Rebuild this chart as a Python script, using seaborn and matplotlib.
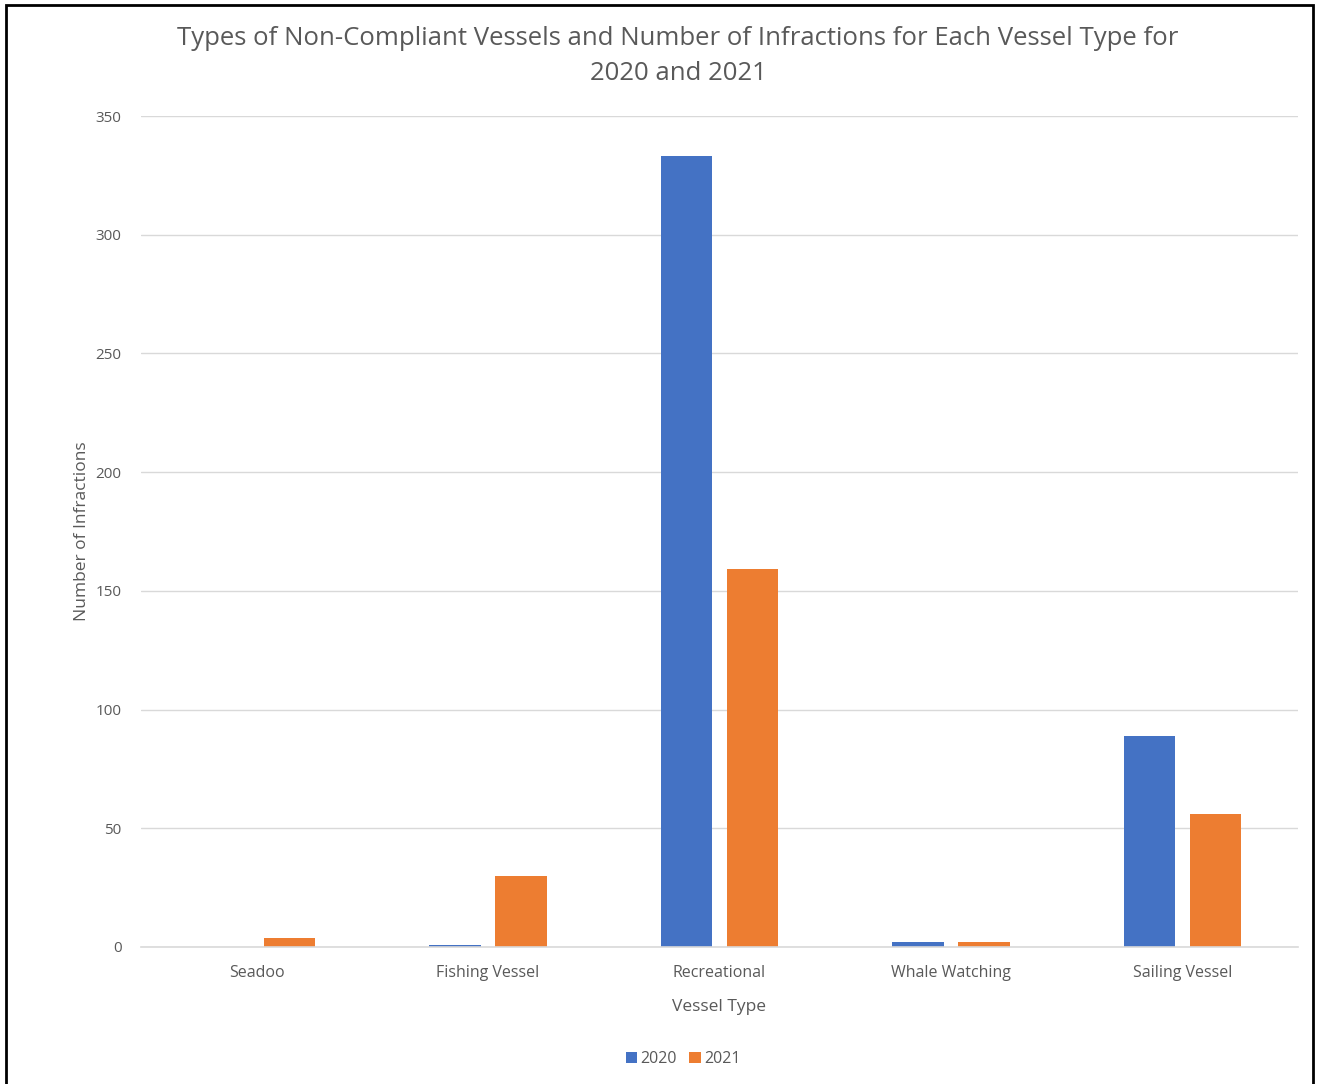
import matplotlib
matplotlib.use("Agg")
import matplotlib.pyplot as plt
import seaborn as sns
import pandas as pd
from matplotlib.patches import Rectangle

categories = ["Seadoo", "Fishing Vessel", "Recreational", "Whale Watching", "Sailing Vessel"]
values_2020 = [0, 1, 333, 2, 89]
values_2021 = [4, 30, 159, 2, 56]
years = ["2020", "2021"]
yticks = [0, 50, 100, 150, 200, 250, 300, 350]

rows = []
for c, a, b in zip(categories, values_2020, values_2021):
    rows.append({"Vessel Type": c, "Year": years[0], "Count": a})
    rows.append({"Vessel Type": c, "Year": years[1], "Count": b})
df = pd.DataFrame(rows)

sns.set_theme(style="white")
plt.rcParams['font.family'] = ['Open Sans', 'DejaVu Sans']

W, H = 1319, 1084
fig = plt.figure(figsize=(W / 100, H / 100), dpi=100)
ax = fig.add_axes([141 / W, 1 - 947 / H, (1298 - 141) / W, (947 - 116) / H])

palette = {"2020": "#4472C4", "2021": "#ED7D31"}
sns.barplot(data=df, x="Vessel Type", y="Count", hue="Year", hue_order=years,
            order=categories, palette=palette, width=0.57, gap=0.22,
            linewidth=0, saturation=1, ax=ax, legend=True)

ax.set_ylim(0, 350)
ax.set_xlim(-0.5, len(categories) - 0.5)
ax.set_yticks(yticks)
ax.set_yticklabels([str(t) for t in yticks], fontsize=11, color="#595959")
ax.tick_params(axis="x", labelsize=11.5, labelcolor="#595959", length=0, pad=13)
ax.tick_params(axis="y", length=0, pad=14)
ax.yaxis.grid(True, color="#D9D9D9", linewidth=1)
ax.set_axisbelow(True)
for s in ["top", "right", "left"]:
    ax.spines[s].set_visible(False)
ax.spines["bottom"].set_color("#D9D9D9")
ax.spines["bottom"].set_linewidth(1.2)

ax.set_xlabel("Vessel Type", fontsize=12.5, color="#595959", labelpad=13)
ax.set_ylabel("Number of Infractions", fontsize=12.5, color="#595959", labelpad=4)

fig.text(678 / W, 1 - 56 / H,
         "Types of Non-Compliant Vessels and Number of Infractions for Each Vessel Type for\n2020 and 2021",
         ha="center", va="center", fontsize=18.5, color="#595959", linespacing=1.5)

leg = ax.legend(loc="center", bbox_to_anchor=(683 / W, 1 - 1059 / H),
                bbox_transform=fig.transFigure, ncol=2, frameon=False,
                fontsize=11.5, handlelength=0.7, handleheight=0.7,
                handletextpad=0.2, columnspacing=0.8)
for t in leg.get_texts():
    t.set_color("#595959")

fig.patches.append(Rectangle((5.5 / W, -0.01), (1313 - 5.5) / W, 1 - 5 / H + 0.01,
                             transform=fig.transFigure, fill=False,
                             edgecolor="black", linewidth=2, figure=fig))

fig.savefig("out.png", dpi=100, facecolor="white")
